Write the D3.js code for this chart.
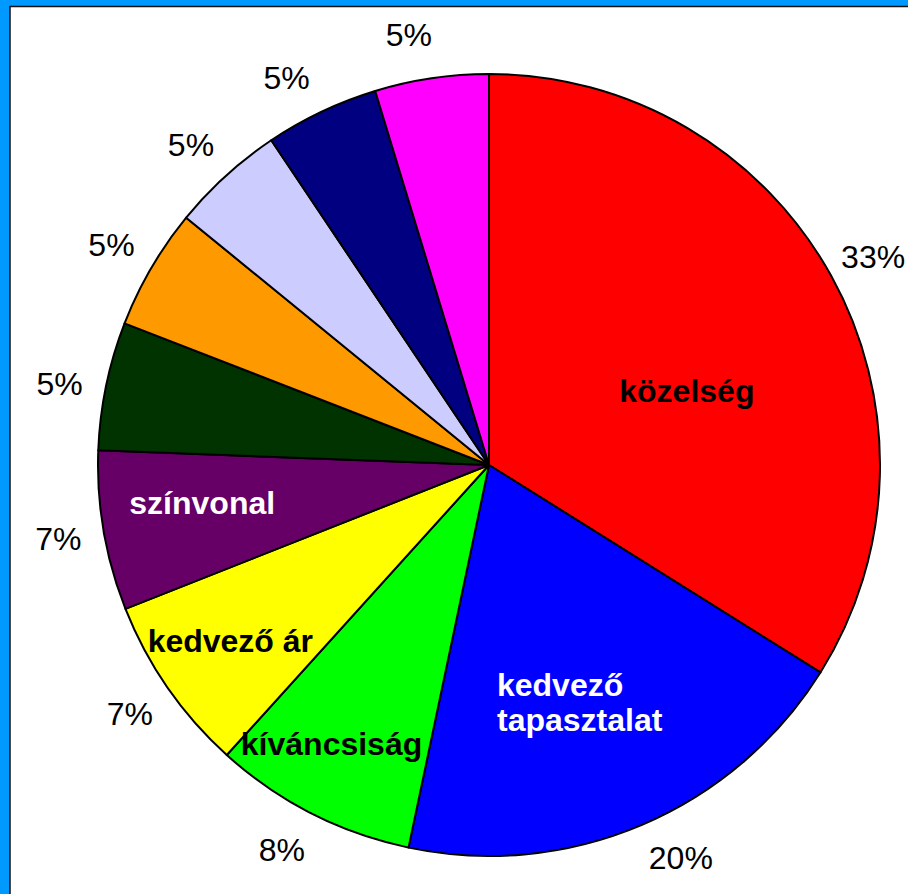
<!DOCTYPE html>
<html>
<head>
<meta charset="utf-8">
<script src="https://cdn.jsdelivr.net/npm/d3@7"></script>
<style>
  html, body { margin: 0; padding: 0; background: #fff; }
  svg { display: block; }
  .pct { font-family: "Liberation Sans", Arial, sans-serif; font-size: 32px; fill: #000; }
  .name { font-family: "Liberation Sans", Arial, sans-serif; font-size: 32px; font-weight: bold; }
</style>
</head>
<body>
<div id="chart"></div>
<script>
// slices clockwise from 12 o'clock
const categories = ["közelség", "kedvező tapasztalat", "kíváncsiság", "kedvező ár", "színvonal",
                    "egyéb 1", "egyéb 2", "egyéb 3", "egyéb 4", "egyéb 5"];
const shares = [33.9, 19.4, 8.4, 7.3, 6.6, 5.3, 5.0, 4.7, 4.7, 4.7];
const pctLabels = ["33%", "20%", "8%", "7%", "7%", "5%", "5%", "5%", "5%", "5%"];
// which slices carry their name inside (empty = none)
const insideNames = [["közelség"], ["kedvező", "tapasztalat"], ["kíváncsiság"], ["kedvező ár"], ["színvonal"],
                     [], [], [], [], []];
const sliceColors = ["#FF0000", "#0000FF", "#00FF00", "#FFFF00", "#660066",
                     "#003300", "#FF9900", "#CCCCFF", "#000080", "#FF00FF"];
const nameColors = ["#000", "#fff", "#000", "#000", "#fff", "#000", "#000", "#000", "#000", "#000"];

const W = 908, H = 894;
const cx = 489, cy = 465, R = 391;

const svg = d3.select("#chart").append("svg")
    .attr("width", W).attr("height", H);

// blue frame with dark inner edge
svg.append("rect").attr("width", W).attr("height", H).attr("fill", "#0099FF");
svg.append("rect")
    .attr("x", 10).attr("y", 6.5).attr("width", W + 20).attr("height", H + 20)
    .attr("fill", "#fff").attr("stroke", "#111").attr("stroke-width", 1.5);

const g = svg.append("g").attr("transform", "translate(" + cx + "," + cy + ")");

const pie = d3.pie().sort(null).value(d => d)(shares);
const arc = d3.arc().innerRadius(0).outerRadius(R);

g.selectAll("path.slice")
    .data(pie)
    .join("path")
    .attr("class", "slice")
    .attr("d", arc)
    .attr("fill", (d, i) => sliceColors[i])
    .attr("stroke", "#000")
    .attr("stroke-width", 2)
    .attr("stroke-linejoin", "round");

// percentage labels outside, nudged (degrees) the way the original sits
const pctNudge = [0.5, -3, 1.3, 0, 0, -1, 0, -0.7, -2.2, -2.1];
const pctR = 437;
const pctPos = (d, i) => {
    const a = (d.startAngle + d.endAngle) / 2 + pctNudge[i] * Math.PI / 180;
    return [Math.sin(a) * pctR, -Math.cos(a) * pctR];
};

g.selectAll("text.pct")
    .data(pie)
    .join("text")
    .attr("class", "pct")
    .attr("text-anchor", "middle")
    .attr("x", (d, i) => pctPos(d, i)[0])
    .attr("y", (d, i) => pctPos(d, i)[1] + 11)
    .text((d, i) => pctLabels[i]);

// name labels inside: [fraction of slice angle, fraction of radius]
const namePlace = [[0.57, 0.54], [0.53, 0.65], [0.58, 0.82], [0.52, 0.80], [0.59, 0.74]];

pie.forEach((d, i) => {
    const lines = insideNames[i];
    if (!lines.length) return;
    const a = d.startAngle + namePlace[i][0] * (d.endAngle - d.startAngle);
    const r = namePlace[i][1] * R;
    const x = Math.sin(a) * r, y = -Math.cos(a) * r;
    const lh = 35;
    const t = g.append("text")
        .attr("class", "name")
        .attr("fill", nameColors[i]);
    lines.forEach((ln, j) => {
        t.append("tspan")
            .attr("x", 0)
            .attr("y", y + 11 - (lines.length - 1) * lh / 2 + j * lh)
            .text(ln);
    });
    // left aligned block centred on the spot
    const bw = t.node().getBBox().width;
    t.selectAll("tspan").attr("x", x - bw / 2);
});
</script>
</body>
</html>
